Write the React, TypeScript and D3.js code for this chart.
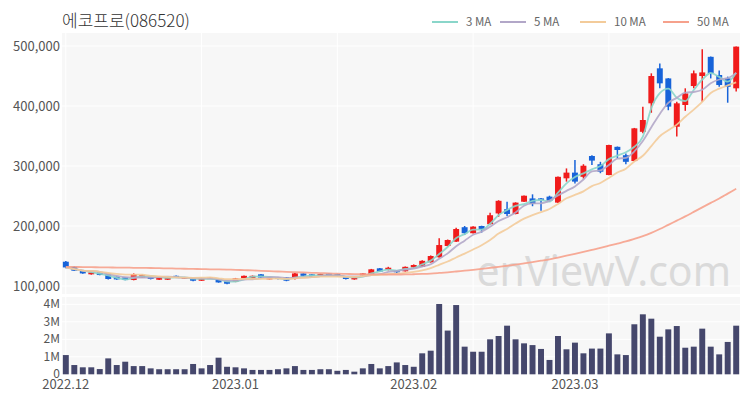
import * as d3 from 'd3';
import React from 'react';

const TITLE = '에코프로(086520)';

// OHLC in won, one per trading day (2022.12 ~ 2023.03)
const opens = [
  140500, 132000, 125500, 119500, 122800, 121000, 115500, 114500, 110000, 114000,
  115500, 110500, 110500, 117000, 113000, 112800, 108800, 112500, 111700, 108800,
  107000, 112800, 112800, 119500, 111000, 114500, 114500, 111700, 121000, 119500,
  116700, 121000, 120000, 115500, 111000, 117800, 119500, 129500, 126700, 125500,
  124500, 131000, 132000, 139500, 148000, 166700, 174000, 198000, 188000, 200000,
  203000, 221000, 228000, 220000, 240500, 246000, 246000, 249000, 239000, 279500,
  289000, 282000, 316700, 303000, 285000, 332000, 318000, 308300, 357000, 404500,
  462800, 446000, 365500, 401700, 433300, 450000, 482000, 451700, 446000, 429500,
];
const highs = [
  141500, 133000, 126000, 123500, 123500, 121500, 116000, 115000, 121000, 119000,
  116000, 115000, 115000, 117500, 115000, 113500, 113500, 114500, 112000, 109000,
  113500, 117500, 117500, 120000, 114500, 115000, 115000, 121500, 121500, 120000,
  120500, 121500, 120500, 116000, 115000, 121500, 128500, 130000, 132000, 126000,
  132500, 136000, 143000, 151000, 179500, 177500, 197000, 200000, 199500, 200500,
  222000, 243000, 240500, 239500, 251000, 252800, 246500, 250500, 282500, 296000,
  310000, 303000, 318000, 307000, 335500, 332500, 321000, 363500, 398800, 454500,
  471000, 446500, 407000, 429500, 459000, 494500, 482500, 459000, 449000, 499000,
];
const lows = [
  129500, 125000, 120500, 119000, 118000, 111000, 110500, 109500, 109500, 113500,
  111000, 110000, 110000, 113500, 112500, 108000, 108500, 112000, 105500, 103000,
  106500, 112500, 112500, 113500, 110500, 111000, 108000, 111000, 116500, 115000,
  116000, 116500, 116000, 111000, 110500, 117500, 119000, 123500, 126000, 121500,
  124000, 130500, 131500, 139000, 147000, 166000, 173500, 185000, 187500, 189000,
  202500, 215500, 216700, 219500, 240000, 233000, 225500, 240000, 238500, 274000,
  271000, 279000, 301700, 288000, 284500, 312800, 303000, 308000, 354500, 388800,
  429500, 393000, 349000, 392000, 429500, 407000, 446000, 432000, 405500, 424000,
];
const closes = [
  131000, 125500, 121000, 122800, 118300, 111700, 111000, 110000, 120000, 118300,
  111700, 114500, 114500, 114000, 114500, 108800, 112800, 114000, 106000, 103800,
  112800, 117000, 117000, 114000, 114000, 111700, 108800, 121000, 117000, 115500,
  120000, 117000, 116700, 111700, 114500, 121000, 127800, 124000, 130500, 122800,
  132000, 135000, 142000, 150000, 168300, 176700, 195000, 188000, 199000, 194500,
  218000, 242000, 220000, 239000, 250500, 236700, 243000, 242000, 282000, 289000,
  274000, 300500, 309000, 290500, 335000, 326700, 307000, 362800, 376700, 450000,
  437800, 399000, 404500, 421000, 454500, 456000, 454500, 435000, 432000, 499000,
];
const volumes = [
  1100000, 530000, 400000, 400000, 300000, 910000, 530000, 720000, 470000, 470000,
  340000, 290000, 290000, 290000, 290000, 590000, 340000, 530000, 950000, 430000,
  400000, 340000, 250000, 250000, 250000, 290000, 340000, 470000, 250000, 250000,
  290000, 290000, 200000, 250000, 150000, 340000, 590000, 340000, 470000, 680000,
  530000, 430000, 1200000, 1350000, 4020000, 2500000, 3960000, 1580000, 1290000, 1290000,
  2000000, 2190000, 2780000, 2000000, 1770000, 1670000, 1450000, 820000, 2190000, 1430000,
  1810000, 1200000, 1470000, 1470000, 2340000, 1140000, 1100000, 2860000, 3430000, 3180000,
  2150000, 2570000, 2760000, 1520000, 1580000, 2610000, 1580000, 1140000, 1850000, 2780000,
];
// 50-day moving average (needs history not shown)
const ma50 = [
  132000, 131800, 131600, 131400, 131200, 131000, 130800, 130600, 130400, 130200,
  130000, 129700, 129400, 129100, 128800, 128500, 128200, 127900, 127600, 127300,
  127000, 126500, 126000, 125400, 124800, 124200, 123600, 123000, 122500, 122000,
  121500, 121000, 120600, 120200, 119900, 119600, 119400, 119300, 119200, 119200,
  119300, 119600, 120100, 120800, 121800, 122900, 124200, 125600, 127000, 128500,
  130200, 132000, 133800, 135700, 137800, 140000, 142200, 144500, 147500, 150500,
  153600, 156800, 160200, 163400, 167200, 170800, 174300, 178500, 183000, 188500,
  195000, 202000, 209000, 216000, 223500, 231000, 238500, 246000, 254000, 262000,
];

const priceTicks = [100000, 200000, 300000, 400000, 500000];
const volumeTicks = [0, 1000000, 2000000, 3000000, 4000000];
const xTickLabels = ['2022.12', '2023.01', '2023.02', '2023.03'];
const xTickIdx = [0, 20, 41, 60];
const gridIdx = [0, 16, 32, 48, 64];

const maSeries = [
  { name: '3 MA', period: 3, color: '#8ad6ca' },
  { name: '5 MA', period: 5, color: '#b2a7c8' },
  { name: '10 MA', period: 10, color: '#f3cb9a' },
  { name: '50 MA', period: 50, color: '#f6a18c' },
];

const UP = '#f01b1b';
const DOWN = '#1763d9';
const VOL = '#45476c';
const FONT = "'Noto Sans CJK KR', 'Noto Sans', sans-serif";

function movingAvg(values: number[], n: number) {
  return values.map((_, i) => {
    const s = values.slice(Math.max(0, i - n + 1), i + 1);
    return d3.mean(s) as number;
  });
}

export default function App() {
  const W = 750;
  const H = 400;
  const left = 62;
  const right = 740;
  const priceTop = 33;
  const priceBottom = 294;
  const volTop = 297;
  const volBottom = 374.3;

  const idx = d3.range(closes.length);
  const x = d3.scaleBand<number>().domain(idx).range([left, right]).paddingInner(0.3).paddingOuter(0.1);
  const cx = (i: number) => (x(i) as number) + x.bandwidth() / 2;

  const y = d3.scaleLinear().domain([86700, 521700]).range([priceBottom, priceTop]);
  const yv = d3.scaleLinear().domain([0, 4420000]).range([volBottom, volTop]);

  const fmt = d3.format(',');
  const fmtVol = (v: number) => (v === 0 ? '0' : `${v / 1000000}M`);

  const line = d3
    .line<number>()
    .x((_, i) => cx(i))
    .y((d) => y(d))
    .curve(d3.curveMonotoneX);

  const maValues = maSeries.map((m) => (m.period === 50 ? ma50 : movingAvg(closes, m.period)));

  const legendX = [432, 500, 580, 663];

  return (
    <svg width={W} height={H} style={{ position: 'absolute', left: 0, top: 0, background: '#fff' }} fontFamily={FONT}>
      <text x={62} y={27} fontSize={17} fill="#333" fontWeight={300}>{TITLE}</text>

      {maSeries.map((m, k) => (
        <g key={m.name}>
          <line x1={legendX[k]} x2={legendX[k] + 26} y1={22} y2={22} stroke={m.color} strokeWidth={2} />
          <text x={legendX[k] + 34} y={26} fontSize={11.5} fill="#666">{m.name}</text>
        </g>
      ))}

      {/* panels */}
      <rect x={left} y={priceTop} width={right - left} height={priceBottom - priceTop} fill="#f7f7f7" />
      <rect x={left} y={volTop} width={right - left} height={volBottom - volTop} fill="#f7f7f7" />

      {priceTicks.map((t) => (
        <g key={t}>
          <line x1={left} x2={right} y1={y(t)} y2={y(t)} stroke="#fff" strokeWidth={1} />
          <text x={60} y={y(t) + 5} fontSize={13} fill="#555" textAnchor="end">{fmt(t)}</text>
        </g>
      ))}
      {volumeTicks.map((t) => (
        <g key={t}>
          {t > 0 && <line x1={left} x2={right} y1={yv(t)} y2={yv(t)} stroke="#fff" strokeWidth={1} />}
          <text x={60} y={yv(t) + 4} fontSize={12} fill="#555" textAnchor="end">{fmtVol(t)}</text>
        </g>
      ))}
      {gridIdx.map((i) => (
        <g key={i}>
          <line x1={cx(i)} x2={cx(i)} y1={priceTop} y2={priceBottom} stroke="#fff" />
          <line x1={cx(i)} x2={cx(i)} y1={volTop} y2={volBottom} stroke="#fff" />
        </g>
      ))}

      <text x={731} y={286} fontSize={41} fill="#c8c8c8" opacity={0.6} textAnchor="end" fontFamily="'Noto Sans', sans-serif">enViewV.com</text>

      {/* candles */}
      {idx.map((i) => {
        const o = opens[i];
        const c = closes[i];
        const col = c >= o ? UP : DOWN;
        const top = y(Math.max(o, c));
        const bot = y(Math.min(o, c));
        return (
          <g key={i}>
            <line x1={cx(i)} x2={cx(i)} y1={y(highs[i])} y2={y(lows[i])} stroke={col} strokeWidth={1.5} />
            <rect x={x(i)} y={top} width={x.bandwidth()} height={Math.max(1.5, bot - top)} fill={col} />
          </g>
        );
      })}

      {maSeries.map((m, k) => (
        <path key={m.name} d={line(maValues[k]) as string} fill="none" stroke={m.color} strokeWidth={1.8} opacity={0.9} />
      ))}

      {/* volume */}
      {idx.map((i) => (
        <rect key={i} x={x(i)} y={yv(volumes[i])} width={x.bandwidth()} height={volBottom - yv(volumes[i])} fill={VOL} />
      ))}

      {xTickIdx.map((i, k) => (
        <text key={k} x={cx(i)} y={389} fontSize={13} fill="#555" textAnchor="middle">{xTickLabels[k]}</text>
      ))}
    </svg>
  );
}
